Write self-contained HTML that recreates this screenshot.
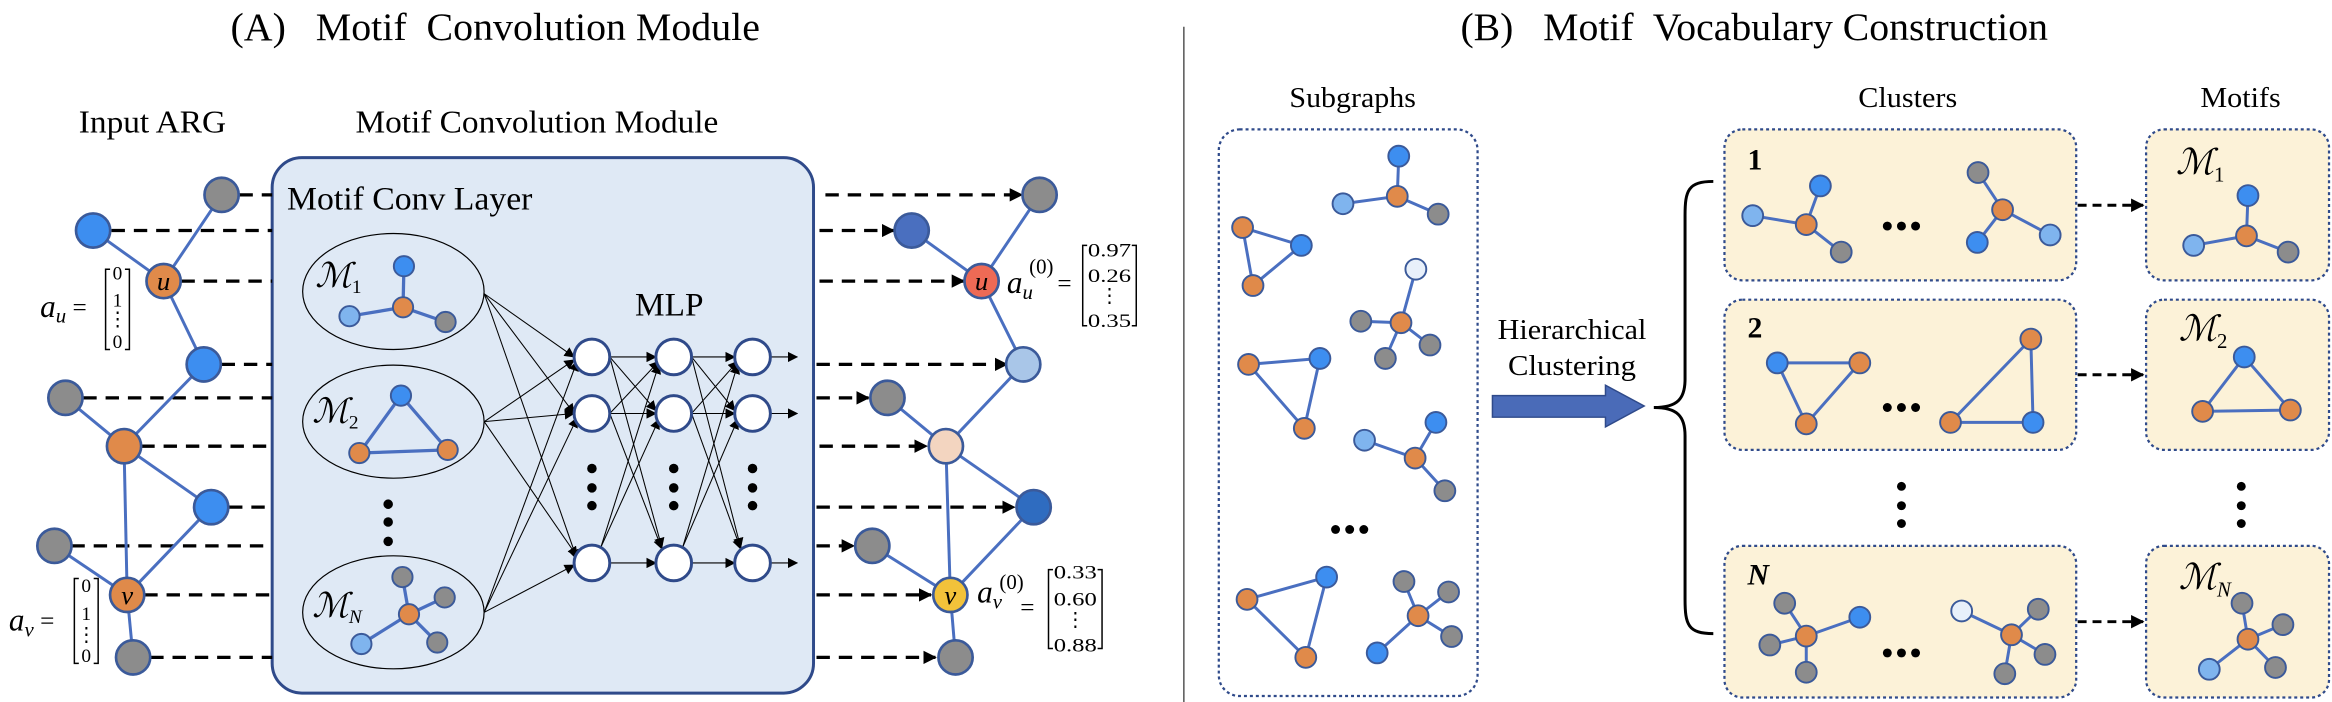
<!DOCTYPE html>
<html><head><meta charset="utf-8"><style>
html,body{margin:0;padding:0;background:#fff}
svg{display:block}
text{font-family:"Liberation Serif","DejaVu Serif",serif;fill:#000}
.it{font-style:italic}
</style></head><body>
<svg width="2332" height="702" viewBox="0 0 1568 472" preserveAspectRatio="none" xmlns="http://www.w3.org/2000/svg">
<defs>
<marker id="ah" viewBox="0 0 10 10" refX="9" refY="5" markerWidth="7" markerHeight="7" orient="auto" markerUnits="userSpaceOnUse"><path d="M0,0L10,5L0,10z" fill="#000"/></marker>
<marker id="ah2" viewBox="0 0 10 10" refX="9" refY="5" markerWidth="9" markerHeight="9" orient="auto" markerUnits="userSpaceOnUse"><path d="M0,0L10,5L0,10z" fill="#000"/></marker>
</defs>

<!-- Titles -->
<text x="155" y="27" font-size="26.5" textLength="356" lengthAdjust="spacingAndGlyphs">(A)&#160;&#160;&#160;Motif&#160; Convolution Module</text>
<text x="982" y="27" font-size="26.5" textLength="395" lengthAdjust="spacingAndGlyphs">(B)&#160;&#160;&#160;Motif&#160; Vocabulary Construction</text>
<line x1="796" y1="18" x2="796" y2="472" stroke="#555" stroke-width="1"/>

<text x="53" y="89" font-size="21" textLength="99" lengthAdjust="spacingAndGlyphs">Input ARG</text>
<text x="239" y="89" font-size="21" textLength="244" lengthAdjust="spacingAndGlyphs">Motif Convolution Module</text>

<!-- Big box -->
<rect x="183" y="106" width="364" height="360" rx="20" fill="#dfe9f5" stroke="#2f4a8a" stroke-width="2"/>
<text x="193" y="141" font-size="22" textLength="165" lengthAdjust="spacingAndGlyphs">Motif Conv Layer</text>
<text x="427" y="212" font-size="22" textLength="46" lengthAdjust="spacingAndGlyphs">MLP</text>

<!-- left dashed lines -->
<g stroke="#000" stroke-width="2.2" stroke-dasharray="9,6">
<line x1="161" y1="131" x2="183" y2="131"/>
<line x1="75" y1="155" x2="183" y2="155"/>
<line x1="122" y1="189" x2="183" y2="189"/>
<line x1="149" y1="245" x2="183" y2="245"/>
<line x1="56" y1="267.5" x2="183" y2="267.5"/>
<line x1="95" y1="300" x2="183" y2="300"/>
<line x1="154" y1="341" x2="183" y2="341"/>
<line x1="48" y1="367" x2="183" y2="367"/>
<line x1="97" y1="400" x2="183" y2="400"/>
<line x1="101" y1="442" x2="183" y2="442"/>
</g>
<!-- right dashed arrows -->
<g stroke="#000" stroke-width="2.2" stroke-dasharray="9,6" marker-end="url(#ah2)">
<line x1="555" y1="131" x2="687" y2="131"/>
<line x1="551" y1="155" x2="601" y2="155"/>
<line x1="551" y1="189" x2="648" y2="189"/>
<line x1="549" y1="245" x2="677" y2="245"/>
<line x1="549" y1="267.5" x2="584" y2="267.5"/>
<line x1="551" y1="300" x2="623" y2="300"/>
<line x1="549" y1="341" x2="682" y2="341"/>
<line x1="549" y1="367" x2="574" y2="367"/>
<line x1="549" y1="400" x2="626" y2="400"/>
<line x1="549" y1="442" x2="629" y2="442"/>
</g>

<!-- left graph edges -->
<g stroke="#4a6fc0" stroke-width="2">
<line x1="149" y1="131" x2="110" y2="189"/>
<line x1="62.6" y1="155" x2="110" y2="189"/>
<line x1="110" y1="189" x2="137" y2="245"/>
<line x1="137" y1="245" x2="83.4" y2="300"/>
<line x1="44" y1="267.5" x2="83.4" y2="300"/>
<line x1="83.4" y1="300" x2="142" y2="341"/>
<line x1="83.4" y1="300" x2="85.5" y2="400"/>
<line x1="142" y1="341" x2="85.5" y2="400"/>
<line x1="36.6" y1="367" x2="85.5" y2="400"/>
<line x1="85.5" y1="400" x2="89.5" y2="442"/>
</g>
<g stroke="#3b5a9a" stroke-width="1.8">
<circle cx="149" cy="131" r="11.5" fill="#8c8c8c"/>
<circle cx="62.6" cy="155" r="11.5" fill="#3d8ef0"/>
<circle cx="110" cy="189" r="11.5" fill="#e08a4a"/>
<circle cx="137" cy="245" r="11.5" fill="#3d8ef0"/>
<circle cx="44" cy="267.5" r="11.5" fill="#8c8c8c"/>
<circle cx="83.4" cy="300" r="11.5" fill="#e08a4a"/>
<circle cx="142" cy="341" r="11.5" fill="#3d8ef0"/>
<circle cx="36.6" cy="367" r="11.5" fill="#8c8c8c"/>
<circle cx="85.5" cy="400" r="11.5" fill="#e08a4a"/>
<circle cx="89.5" cy="442" r="11.5" fill="#8c8c8c"/>
</g>
<text x="110" y="195" font-size="18" class="it" text-anchor="middle">u</text>
<text x="85.5" y="406" font-size="18" class="it" text-anchor="middle">v</text>

<!-- right graph edges -->
<g stroke="#4a6fc0" stroke-width="2">
<line x1="699" y1="131" x2="660" y2="189"/>
<line x1="613" y1="155" x2="660" y2="189"/>
<line x1="660" y1="189" x2="688" y2="245"/>
<line x1="688" y1="245" x2="636" y2="300"/>
<line x1="596.7" y1="267.5" x2="636" y2="300"/>
<line x1="636" y1="300" x2="695" y2="341"/>
<line x1="636" y1="300" x2="639" y2="400"/>
<line x1="695" y1="341" x2="639" y2="400"/>
<line x1="586.5" y1="367" x2="639" y2="400"/>
<line x1="639" y1="400" x2="642.5" y2="442"/>
</g>
<g stroke="#3b5a9a" stroke-width="1.8">
<circle cx="699" cy="131" r="11.5" fill="#8c8c8c"/>
<circle cx="613" cy="155" r="11.5" fill="#4a6fbf"/>
<circle cx="660" cy="189" r="11.5" fill="#ee6a55"/>
<circle cx="688" cy="245" r="11.5" fill="#a9c6e8"/>
<circle cx="596.7" cy="267.5" r="11.5" fill="#8c8c8c"/>
<circle cx="636" cy="300" r="11.5" fill="#f3d5c0"/>
<circle cx="695" cy="341" r="11.5" fill="#2f6cc0"/>
<circle cx="586.5" cy="367" r="11.5" fill="#8c8c8c"/>
<circle cx="639" cy="400" r="11.5" fill="#f2c23a"/>
<circle cx="642.5" cy="442" r="11.5" fill="#8c8c8c"/>
</g>
<text x="660" y="195" font-size="18" class="it" text-anchor="middle">u</text>
<text x="639" y="406" font-size="18" class="it" text-anchor="middle">v</text>

<!-- vectors -->
<text x="27" y="213" font-size="21" class="it">a<tspan font-size="14" dy="4">u</tspan><tspan dy="-5" font-style="normal" font-size="17"> =</tspan></text>
<g fill="none" stroke="#000" stroke-width="1"><path d="M74,181h-3v54h3M84,181h3v54h-3"/></g>
<g font-size="13" text-anchor="middle"><text x="79" y="188">0</text><text x="79" y="206">1</text><text x="79" y="219">⋮</text><text x="79" y="234">0</text></g>

<text x="6" y="424" font-size="21" class="it">a<tspan font-size="14" dy="4">v</tspan><tspan dy="-5" font-style="normal" font-size="17"> =</tspan></text>
<g fill="none" stroke="#000" stroke-width="1"><path d="M53,389h-3v57h3M63,389h3v57h-3"/></g>
<g font-size="13" text-anchor="middle"><text x="58" y="398">0</text><text x="58" y="417">1</text><text x="58" y="431">⋮</text><text x="58" y="445">0</text></g>

<text x="677" y="197" font-size="21" class="it">a<tspan font-size="14" dy="4">u</tspan></text>
<text x="692" y="184" font-size="14">(0)</text>
<text x="711" y="196" font-size="17">=</text>
<g fill="none" stroke="#000" stroke-width="1"><path d="M731,165h-3v54h3M761,165h3v54h-3"/></g>
<g font-size="13" text-anchor="middle"><text x="746" y="172.5" textLength="29" lengthAdjust="spacingAndGlyphs">0.97</text><text x="746" y="189.5" textLength="29" lengthAdjust="spacingAndGlyphs">0.26</text><text x="746" y="203">⋮</text><text x="746" y="220" textLength="29" lengthAdjust="spacingAndGlyphs">0.35</text></g>

<text x="657" y="405" font-size="21" class="it">a<tspan font-size="14" dy="4">v</tspan></text>
<text x="672" y="396" font-size="14">(0)</text>
<text x="686" y="414" font-size="17">=</text>
<g fill="none" stroke="#000" stroke-width="1"><path d="M708,383h-3v53h3M738,383h3v53h-3"/></g>
<g font-size="13" text-anchor="middle"><text x="723" y="389" textLength="29" lengthAdjust="spacingAndGlyphs">0.33</text><text x="723" y="407" textLength="29" lengthAdjust="spacingAndGlyphs">0.60</text><text x="723" y="421">⋮</text><text x="723" y="438" textLength="29" lengthAdjust="spacingAndGlyphs">0.88</text></g>

<!-- motif ellipses -->
<g fill="none" stroke="#000" stroke-width="0.8">
<ellipse cx="264.5" cy="196" rx="61" ry="39"/>
<ellipse cx="264.5" cy="283.5" rx="61" ry="38"/>
<ellipse cx="264.5" cy="411.7" rx="61" ry="38"/>
</g>
<g font-size="23" class="it">
<text x="212" y="193">ℳ<tspan font-size="13" dy="4" font-style="normal">1</tspan></text>
<text x="210" y="284">ℳ<tspan font-size="13" dy="4" font-style="normal">2</tspan></text>
<text x="210" y="415">ℳ<tspan font-size="13" dy="4">N</tspan></text>
</g>
<g stroke="#4a6fc0" stroke-width="2.2">
<line x1="271.6" y1="179" x2="271" y2="206.6"/><line x1="235" y1="212.6" x2="271" y2="206.6"/><line x1="299.6" y1="216.5" x2="271" y2="206.6"/>
<path d="M269.6,266L241.6,304.6L301,302.5Z" fill="none"/>
<line x1="270.6" y1="388" x2="275" y2="413"/><line x1="299" y1="401.7" x2="275" y2="413"/><line x1="243" y1="433" x2="275" y2="413"/><line x1="294" y1="432" x2="275" y2="413"/>
</g>
<g stroke="#3b5a9a" stroke-width="1.3">
<circle cx="271.6" cy="179" r="6.8" fill="#3d8ef0"/><circle cx="271" cy="206.6" r="6.8" fill="#e08a4a"/><circle cx="235" cy="212.6" r="6.8" fill="#7fb4ee"/><circle cx="299.6" cy="216.5" r="6.8" fill="#8c8c8c"/>
<circle cx="269.6" cy="266" r="6.8" fill="#3d8ef0"/><circle cx="241.6" cy="304.6" r="6.8" fill="#e08a4a"/><circle cx="301" cy="302.5" r="6.8" fill="#e08a4a"/>
<circle cx="270.6" cy="388" r="6.8" fill="#8c8c8c"/><circle cx="275" cy="413" r="6.8" fill="#e08a4a"/><circle cx="299" cy="401.7" r="6.8" fill="#8c8c8c"/><circle cx="243" cy="433" r="6.8" fill="#7fb4ee"/><circle cx="294" cy="432" r="6.8" fill="#8c8c8c"/>
</g>
<g fill="#000"><circle cx="261" cy="339" r="3.2"/><circle cx="261" cy="351" r="3.2"/><circle cx="261" cy="364" r="3.2"/></g>

<!-- MLP connections -->
<g stroke="#000" stroke-width="0.7" marker-end="url(#ah)">
<line x1="325.6" y1="197.5" x2="386" y2="240"/><line x1="325.6" y1="197.5" x2="386" y2="278"/><line x1="325.6" y1="197.5" x2="388" y2="376"/>
<line x1="325.6" y1="283.5" x2="386" y2="242"/><line x1="325.6" y1="283.5" x2="386" y2="278"/><line x1="325.6" y1="283.5" x2="388" y2="374"/>
<line x1="325.6" y1="411.7" x2="388" y2="243"/><line x1="325.6" y1="411.7" x2="388" y2="281"/><line x1="325.6" y1="411.7" x2="386" y2="380"/>
<line x1="410" y1="240" x2="441" y2="240"/><line x1="410" y1="240" x2="441" y2="276"/><line x1="410" y1="240" x2="445" y2="368"/>
<line x1="410" y1="278" x2="443" y2="243"/><line x1="410" y1="278" x2="441" y2="278"/><line x1="410" y1="278" x2="445" y2="369"/>
<line x1="404" y1="368" x2="443" y2="245"/><line x1="404" y1="368" x2="443" y2="282"/><line x1="410" y1="378.5" x2="441" y2="378.5"/>
<line x1="465" y1="240" x2="494" y2="240"/><line x1="465" y1="240" x2="494" y2="276"/><line x1="465" y1="240" x2="498" y2="368"/>
<line x1="465" y1="278" x2="496" y2="243"/><line x1="465" y1="278" x2="494" y2="278"/><line x1="465" y1="278" x2="498" y2="369"/>
<line x1="459" y1="368" x2="496" y2="245"/><line x1="459" y1="368" x2="496" y2="282"/><line x1="465" y1="378.5" x2="494" y2="378.5"/>
<line x1="518" y1="240" x2="536" y2="240"/><line x1="518" y1="278" x2="536" y2="278"/><line x1="518" y1="378.5" x2="536" y2="378.5"/>
</g>
<g fill="#fff" stroke="#2f4a8a" stroke-width="2">
<circle cx="398" cy="240" r="12"/><circle cx="398" cy="278" r="12"/><circle cx="398" cy="378.5" r="12"/>
<circle cx="453" cy="240" r="12"/><circle cx="453" cy="278" r="12"/><circle cx="453" cy="378.5" r="12"/>
<circle cx="506" cy="240" r="12"/><circle cx="506" cy="278" r="12"/><circle cx="506" cy="378.5" r="12"/>
</g>
<g fill="#000">
<circle cx="398" cy="315" r="3.2"/><circle cx="398" cy="328" r="3.2"/><circle cx="398" cy="340" r="3.2"/>
<circle cx="453" cy="315" r="3.2"/><circle cx="453" cy="328" r="3.2"/><circle cx="453" cy="340" r="3.2"/>
<circle cx="506" cy="315" r="3.2"/><circle cx="506" cy="328" r="3.2"/><circle cx="506" cy="340" r="3.2"/>
</g>

<!-- (B) -->
<text x="867" y="72" font-size="19" textLength="85" lengthAdjust="spacingAndGlyphs">Subgraphs</text>
<text x="1249.5" y="72" font-size="19" textLength="66.5" lengthAdjust="spacingAndGlyphs">Clusters</text>
<text x="1479.5" y="72" font-size="19" textLength="54" lengthAdjust="spacingAndGlyphs">Motifs</text>

<rect x="819.5" y="87" width="174" height="381" rx="14" fill="#fff" stroke="#2f4a8a" stroke-width="1.5" stroke-dasharray="2,2"/>
<g fill="#fcf2d8" stroke="#2f4a8a" stroke-width="1.5" stroke-dasharray="2,2">
<rect x="1159.5" y="87" width="236.5" height="101.5" rx="12"/>
<rect x="1159.5" y="201.5" width="236.5" height="101" rx="12"/>
<rect x="1159.5" y="367" width="236.5" height="102" rx="12"/>
<rect x="1443" y="87" width="123" height="101.5" rx="12"/>
<rect x="1443" y="201.5" width="123" height="101" rx="12"/>
<rect x="1443" y="367" width="123" height="102" rx="12"/>
</g>

<text x="1007" y="228" font-size="19" textLength="100" lengthAdjust="spacingAndGlyphs">Hierarchical</text>
<text x="1014" y="252" font-size="19" textLength="86" lengthAdjust="spacingAndGlyphs">Clustering</text>
<path d="M1003.5,266H1079.5V259L1105.5,273L1079.5,287V280.5H1003.5Z" fill="#4a6bb8" stroke="#2f4a8a" stroke-width="1"/>
<path d="M1152,122C1135,122 1133,128 1133,145V255C1133,268 1128,274 1112,274C1128,274 1133,280 1133,293V403C1133,420 1135,426 1152,426" fill="none" stroke="#000" stroke-width="2"/>

<g stroke="#000" stroke-width="2" stroke-dasharray="6,4" marker-end="url(#ah2)">
<line x1="1397" y1="138" x2="1441" y2="138"/>
<line x1="1397" y1="252" x2="1441" y2="252"/>
<line x1="1397" y1="418" x2="1441" y2="418"/>
</g>
<g font-size="20" font-weight="bold">
<text x="1175" y="114">1</text><text x="1175" y="227">2</text><text x="1175" y="393" class="it">N</text>
</g>
<g font-size="24" class="it">
<text x="1463" y="117">ℳ<tspan font-size="14" dy="5" font-style="normal">1</tspan></text>
<text x="1465" y="229">ℳ<tspan font-size="14" dy="5" font-style="normal">2</tspan></text>
<text x="1465" y="396">ℳ<tspan font-size="14" dy="5">N</tspan></text>
</g>
<g fill="#000">
<circle cx="907.5" cy="356" r="3"/><circle cx="898" cy="356" r="3"/><circle cx="917" cy="356" r="3"/>
<circle cx="1269" cy="152" r="3"/><circle cx="1278.5" cy="152" r="3"/><circle cx="1288" cy="152" r="3"/>
<circle cx="1269" cy="274" r="3"/><circle cx="1278.5" cy="274" r="3"/><circle cx="1288" cy="274" r="3"/>
<circle cx="1269" cy="439" r="3"/><circle cx="1278.5" cy="439" r="3"/><circle cx="1288" cy="439" r="3"/>
<circle cx="1278.5" cy="327" r="3"/><circle cx="1278.5" cy="340" r="3"/><circle cx="1278.5" cy="352" r="3"/>
<circle cx="1507" cy="327" r="3"/><circle cx="1507" cy="340" r="3"/><circle cx="1507" cy="352" r="3"/>
</g>

<!-- (B) graph edges -->
<g stroke="#4a6fc0" stroke-width="2" fill="none">
<path d="M939.5,132L940.5,105M939.5,132L903,137M939.5,132L967,144"/>
<path d="M835.5,153L875,165L842.5,192Z"/>
<path d="M942,217L952,181M942,217L915,216M942,217L931.5,241M942,217L961.5,232"/>
<path d="M839.5,245L887.5,241L877,288Z"/>
<path d="M951.5,308L965.5,284M951.5,308L917.5,296M951.5,308L971.5,330"/>
<path d="M892,388L838.5,403L878,442Z"/>
<path d="M953.5,414L944,391M953.5,414L974,398M953.5,414L976,428M953.5,414L926,439"/>
<path d="M1214.5,151L1178.5,145M1214.5,151L1224,125M1214.5,151L1238,169.5"/>
<path d="M1346.5,141L1330,116M1346.5,141L1329.5,163M1346.5,141L1378.5,158"/>
<path d="M1510.5,158.6L1511.5,131.5M1510.5,158.6L1475,165M1510.5,158.6L1538.5,169.5"/>
<path d="M1195,244L1250.5,244L1214.5,285Z"/>
<path d="M1365.5,228L1311.5,284L1367,284Z"/>
<path d="M1509,240L1481,276.6L1540,275.7Z"/>
<path d="M1214.5,427.7L1200,405.6M1214.5,427.7L1250.5,415M1214.5,427.7L1190,433.7M1214.5,427.7L1214.5,452"/>
<path d="M1352.5,426.8L1319,410.8M1352.5,426.8L1370.5,409.6M1352.5,426.8L1375,440M1352.5,426.8L1348,453"/>
<path d="M1511.5,429.8L1507.5,405.6M1511.5,429.8L1535,420M1511.5,429.8L1530,448.8M1511.5,429.8L1485.5,450"/>
</g>
<g stroke="#3b5a9a" stroke-width="1.3">
<circle cx="939.5" cy="132" r="7" fill="#e08a4a"/><circle cx="940.5" cy="105" r="7" fill="#3d8ef0"/><circle cx="903" cy="137" r="7" fill="#7fb4ee"/><circle cx="967" cy="144" r="7" fill="#8c8c8c"/>
<circle cx="835.5" cy="153" r="7" fill="#e08a4a"/><circle cx="875" cy="165" r="7" fill="#3d8ef0"/><circle cx="842.5" cy="192" r="7" fill="#e08a4a"/>
<circle cx="952" cy="181" r="7" fill="#e8f0fa"/><circle cx="942" cy="217" r="7" fill="#e08a4a"/><circle cx="915" cy="216" r="7" fill="#8c8c8c"/><circle cx="931.5" cy="241" r="7" fill="#8c8c8c"/><circle cx="961.5" cy="232" r="7" fill="#8c8c8c"/>
<circle cx="839.5" cy="245" r="7" fill="#e08a4a"/><circle cx="887.5" cy="241" r="7" fill="#3d8ef0"/><circle cx="877" cy="288" r="7" fill="#e08a4a"/>
<circle cx="965.5" cy="284" r="7" fill="#3d8ef0"/><circle cx="917.5" cy="296" r="7" fill="#7fb4ee"/><circle cx="951.5" cy="308" r="7" fill="#e08a4a"/><circle cx="971.5" cy="330" r="7" fill="#8c8c8c"/>
<circle cx="892" cy="388" r="7" fill="#3d8ef0"/><circle cx="838.5" cy="403" r="7" fill="#e08a4a"/><circle cx="878" cy="442" r="7" fill="#e08a4a"/>
<circle cx="953.5" cy="414" r="7" fill="#e08a4a"/><circle cx="944" cy="391" r="7" fill="#8c8c8c"/><circle cx="974" cy="398" r="7" fill="#8c8c8c"/><circle cx="976" cy="428" r="7" fill="#8c8c8c"/><circle cx="926" cy="439" r="7" fill="#3d8ef0"/>
<circle cx="1178.5" cy="145" r="7" fill="#7fb4ee"/><circle cx="1214.5" cy="151" r="7" fill="#e08a4a"/><circle cx="1224" cy="125" r="7" fill="#3d8ef0"/><circle cx="1238" cy="169.5" r="7" fill="#8c8c8c"/>
<circle cx="1330" cy="116" r="7" fill="#8c8c8c"/><circle cx="1346.5" cy="141" r="7" fill="#e08a4a"/><circle cx="1329.5" cy="163" r="7" fill="#3d8ef0"/><circle cx="1378.5" cy="158" r="7" fill="#7fb4ee"/>
<circle cx="1511.5" cy="131.5" r="7" fill="#3d8ef0"/><circle cx="1510.5" cy="158.6" r="7" fill="#e08a4a"/><circle cx="1475" cy="165" r="7" fill="#7fb4ee"/><circle cx="1538.5" cy="169.5" r="7" fill="#8c8c8c"/>
<circle cx="1195" cy="244" r="7" fill="#3d8ef0"/><circle cx="1250.5" cy="244" r="7" fill="#e08a4a"/><circle cx="1214.5" cy="285" r="7" fill="#e08a4a"/>
<circle cx="1365.5" cy="228" r="7" fill="#e08a4a"/><circle cx="1311.5" cy="284" r="7" fill="#e08a4a"/><circle cx="1367" cy="284" r="7" fill="#3d8ef0"/>
<circle cx="1509" cy="240" r="7" fill="#3d8ef0"/><circle cx="1481" cy="276.6" r="7" fill="#e08a4a"/><circle cx="1540" cy="275.7" r="7" fill="#e08a4a"/>
<circle cx="1214.5" cy="427.7" r="7" fill="#e08a4a"/><circle cx="1200" cy="405.6" r="7" fill="#8c8c8c"/><circle cx="1250.5" cy="415" r="7" fill="#3d8ef0"/><circle cx="1190" cy="433.7" r="7" fill="#8c8c8c"/><circle cx="1214.5" cy="452" r="7" fill="#8c8c8c"/>
<circle cx="1319" cy="410.8" r="7" fill="#e8f0fa"/><circle cx="1352.5" cy="426.8" r="7" fill="#e08a4a"/><circle cx="1370.5" cy="409.6" r="7" fill="#8c8c8c"/><circle cx="1375" cy="440" r="7" fill="#8c8c8c"/><circle cx="1348" cy="453" r="7" fill="#8c8c8c"/>
<circle cx="1511.5" cy="429.8" r="7" fill="#e08a4a"/><circle cx="1507.5" cy="405.6" r="7" fill="#8c8c8c"/><circle cx="1535" cy="420" r="7" fill="#8c8c8c"/><circle cx="1530" cy="448.8" r="7" fill="#8c8c8c"/><circle cx="1485.5" cy="450" r="7" fill="#7fb4ee"/>
</g>
</svg>
</body></html>
